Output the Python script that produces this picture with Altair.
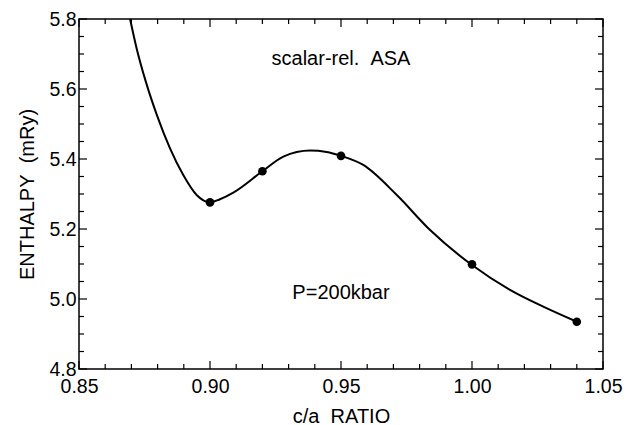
import altair as alt
import pandas as pd

# Curve
curve_x = [0.8695, 0.8720, 0.8755, 0.8797, 0.8847, 0.8898, 0.8949, 0.9000, 0.9038, 0.9089,
           0.9200, 0.9280, 0.9382, 0.9445, 0.9500, 0.9585, 0.9713, 0.9840, 1.0000, 1.0145,
           1.0272, 1.0400]
curve_y = [5.800, 5.716, 5.621, 5.526, 5.431, 5.354, 5.297, 5.276, 5.285, 5.304,
           5.365, 5.407, 5.424, 5.420, 5.409, 5.383, 5.297, 5.197, 5.097, 5.026,
           4.978, 4.935]

# Calculated points
pts_x = [0.90, 0.92, 0.95, 1.00, 1.04]
pts_y = [5.276, 5.365, 5.409, 5.099, 4.935]

# Ticks
x_major = [0.85, 0.90, 0.95, 1.00, 1.05]
x_minor = [0.86, 0.87, 0.88, 0.89, 0.91, 0.92, 0.93, 0.94, 0.96, 0.97, 0.98, 0.99,
           1.01, 1.02, 1.03, 1.04]
y_major = [4.8, 5.0, 5.2, 5.4, 5.6, 5.8]
y_minor = [4.85, 4.9, 4.95, 5.05, 5.1, 5.15, 5.25, 5.3, 5.35, 5.45, 5.5, 5.55, 5.65, 5.7, 5.75]

# Annotations
ann_text = ["scalar-rel.\u00a0\u00a0ASA", "P=200kbar"]
ann_x = [0.95, 0.95]
ann_y = [5.686, 5.017]

W, H = 524, 350
FONT = "Liberation Sans"

xs = alt.Scale(domain=[0.85, 1.05], nice=False, zero=False)
ys = alt.Scale(domain=[4.8, 5.8], nice=False, zero=False)

x_axis = alt.Axis(values=x_major, format=".2f", tickSize=0, domain=False, grid=False,
                  labelPadding=8, labelFontSize=19.5, labelFont=FONT, labelColor="black",
                  labelFlush=False,
                  titleFont=FONT, titleFontSize=20, titleFontWeight="normal",
                  titleColor="black", titlePadding=11)
y_axis = alt.Axis(values=y_major, format=".1f", tickSize=0, domain=False, grid=False,
                  labelPadding=3, labelFontSize=19.5, labelFont=FONT, labelColor="black",
                  labelFlush=False,
                  titleFont=FONT, titleFontSize=20, titleFontWeight="normal",
                  titleColor="black", titlePadding=11)
XT = "c/a\u00a0\u00a0RATIO"
YT = "ENTHALPY\u00a0\u00a0(mRy)"


def X(f):
    return alt.X(f, scale=xs, axis=x_axis, title=XT)


def Y(f):
    return alt.Y(f, scale=ys, axis=y_axis, title=YT)


curve_df = pd.DataFrame({"x": curve_x, "y": curve_y})
pts_df = pd.DataFrame({"x": pts_x, "y": pts_y})
ann_df = pd.DataFrame({"t": ann_text, "x": ann_x, "y": ann_y})
xmaj_df = pd.DataFrame({"v": x_major})
xmin_df = pd.DataFrame({"v": x_minor})
ymaj_df = pd.DataFrame({"v": y_major})
ymin_df = pd.DataFrame({"v": y_minor})

line = alt.Chart(curve_df).mark_line(
    color="black", strokeWidth=2, interpolate="monotone", clip=True
).encode(x=X("x:Q"), y=Y("y:Q"))

points = alt.Chart(pts_df).mark_circle(color="black", opacity=1, size=75).encode(
    x=X("x:Q"), y=Y("y:Q")
)

text = alt.Chart(ann_df).mark_text(font=FONT, fontSize=20, color="black").encode(
    x=X("x:Q"), y=Y("y:Q"), text="t:N"
)


def xticks(df, length):
    bot = alt.Chart(df).mark_rule(color="black", strokeWidth=1.2).encode(
        x=X("v:Q"), y=alt.value(H), y2=alt.value(H - length))
    top = alt.Chart(df).mark_rule(color="black", strokeWidth=1.2).encode(
        x=X("v:Q"), y=alt.value(0), y2=alt.value(length))
    return [bot, top]


def yticks(df, length):
    left = alt.Chart(df).mark_rule(color="black", strokeWidth=1.2).encode(
        y=Y("v:Q"), x=alt.value(0), x2=alt.value(length))
    right = alt.Chart(df).mark_rule(color="black", strokeWidth=1.2).encode(
        y=Y("v:Q"), x=alt.value(W), x2=alt.value(W - length))
    return [left, right]


layers = [line, points, text] + xticks(xmaj_df, 8) + xticks(xmin_df, 5) + yticks(ymaj_df, 8) + yticks(ymin_df, 5)

chart = alt.layer(*layers).properties(
    width=W, height=H,
    autosize=alt.AutoSizeParams(type="none"),
    padding={"left": 79, "top": 19, "right": 23, "bottom": 56},
    background="white",
).configure_view(stroke="black", strokeWidth=1.5)

chart.save("out.html", embed_options={"renderer": "svg", "actions": False})
